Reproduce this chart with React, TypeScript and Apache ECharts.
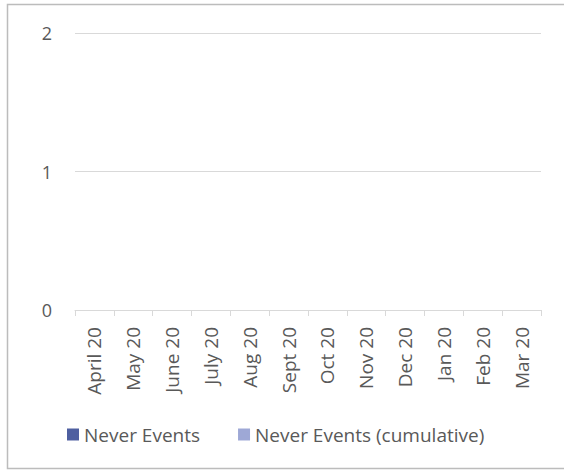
import React, { useEffect, useRef } from "react";
import * as echarts from "echarts";

const months = [
  "April 20", "May 20", "June 20", "July 20", "Aug 20", "Sept 20",
  "Oct 20", "Nov 20", "Dec 20", "Jan 20", "Feb 20", "Mar 20",
];
const neverEvents = [0, 0, 0, 0, 0, 0, 0, 0, 0, 0, 0, 0];
const neverEventsCumulative = [0, 0, 0, 0, 0, 0, 0, 0, 0, 0, 0, 0];
const yTicks = { min: 0, max: 2, interval: 1 };

const FONT = "'Open Sans', 'Noto Sans', sans-serif";
const TEXT = "#595959";

export default function App() {
  const ref = useRef<HTMLDivElement>(null);

  useEffect(() => {
    if (!ref.current) return;
    const chart = echarts.init(ref.current, null, { renderer: "svg" });
    chart.setOption({
      animation: false,
      backgroundColor: "#ffffff",
      textStyle: { fontFamily: FONT },
      graphic: [
        {
          type: "rect",
          shape: { x: 7.5, y: 4.5, width: 600, height: 464 },
          style: { fill: "none", stroke: "#bcbcbc", lineWidth: 1.5 },
          silent: true,
        },
      ],
      grid: { left: 75, right: 23, top: 33, bottom: 161, containLabel: false },
      legend: {
        left: 62,
        top: 420,
        itemWidth: 12,
        itemHeight: 12,
        itemGap: 38,
        icon: "rect",
        textStyle: { color: TEXT, fontSize: 19, fontFamily: FONT },
        data: ["Never Events", "Never Events (cumulative)"],
      },
      xAxis: {
        type: "category",
        data: months,
        boundaryGap: true,
        axisLine: { show: true, lineStyle: { color: "#d9d9d9", width: 1 } },
        axisTick: { show: true, length: 6, alignWithLabel: false, lineStyle: { color: "#d9d9d9" } },
        axisLabel: { rotate: 90, margin: 17, color: TEXT, fontSize: 19, fontFamily: FONT, interval: 0 },
        splitLine: { show: false },
      },
      yAxis: {
        type: "value",
        min: yTicks.min,
        max: yTicks.max,
        interval: yTicks.interval,
        axisLine: { show: false },
        axisTick: { show: false },
        axisLabel: { margin: 23, color: TEXT, fontSize: 18, fontFamily: FONT },
        splitLine: { show: true, lineStyle: { color: "#d9d9d9", width: 1 } },
      },
      series: [
        {
          name: "Never Events",
          type: "bar",
          data: neverEvents,
          itemStyle: { color: "#4e5fa0" },
        },
        {
          name: "Never Events (cumulative)",
          type: "bar",
          data: neverEventsCumulative,
          itemStyle: { color: "#9ea8d6" },
        },
      ],
    });
    return () => chart.dispose();
  }, []);

  return (
    <div
      ref={ref}
      style={{ position: "fixed", left: 0, top: 0, width: 564, height: 471 }}
    />
  );
}
